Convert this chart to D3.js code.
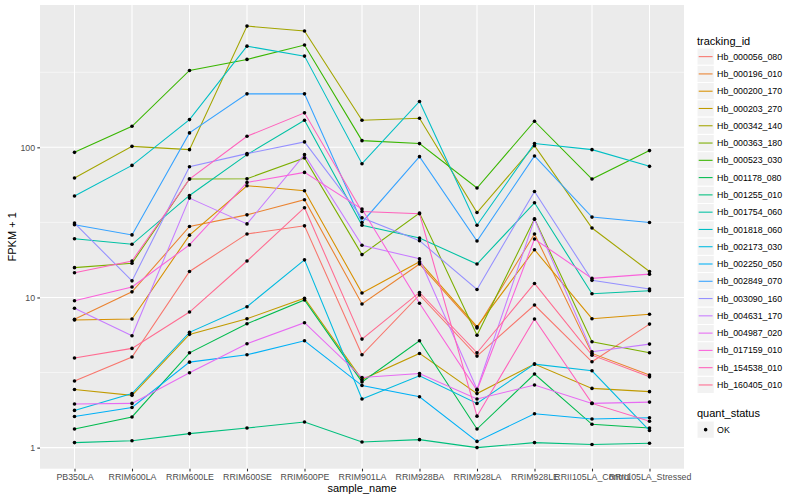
<!DOCTYPE html>
<html>
<head>
<meta charset="utf-8">
<script src="https://cdn.jsdelivr.net/npm/d3@7"></script>
<style>
  body { margin: 0; background: #fff; }
  svg text { font-family: "Liberation Sans", Arial, sans-serif; }
</style>
</head>
<body>
<svg id="chart" width="800" height="500"></svg>
<script>
// sample names on the x axis
var sampleNames = ["PB350LA", "RRIM600LA", "RRIM600LE", "RRIM600SE", "RRIM600PE", "RRIM901LA",
                   "RRIM928BA", "RRIM928LA", "RRIM928LE", "RRII105LA_Control", "RRII105LA_Stressed"];

// FPKM + 1 per tracking id, one value per sample
var Hb_000056_080 = [2.78, 4.01, 14.9, 26.5, 30.0, 4.15, 10.4, 4.07, 8.91, 3.73, 6.65];
var Hb_000196_010 = [7.15, 10.9, 29.7, 35.5, 44.8, 9.05, 16.7, 6.26, 26.5, 4.24, 3.04];
var Hb_000200_170 = [7.08, 7.19, 26.0, 55.5, 51.4, 10.7, 17.3, 6.39, 20.8, 7.22, 7.73];
var Hb_000203_270 = [2.44, 2.23, 5.68, 7.22, 9.88, 2.84, 4.24, 2.29, 3.60, 2.48, 2.36];
var Hb_000342_140 = [62.5, 101.5, 96.5, 642, 595, 151.5, 156.2, 36.8, 102.6, 29.0, 14.9];
var Hb_000363_180 = [15.8, 16.9, 61.5, 61.8, 85.0, 19.3, 36.5, 5.6, 33.4, 5.07, 4.28];
var Hb_000523_030 = [92.6, 138.1, 325, 385, 480, 110.8, 105.9, 53.6, 149.2, 61.5, 95.1];
var Hb_001178_080 = [1.33, 1.60, 4.28, 6.69, 9.62, 2.74, 5.15, 1.33, 3.09, 1.43, 1.35];
var Hb_001255_010 = [1.08, 1.11, 1.24, 1.35, 1.48, 1.09, 1.13, 1.0, 1.08, 1.05, 1.07];
var Hb_001754_060 = [24.6, 22.6, 47.8, 89.4, 151.5, 30.3, 24.9, 16.7, 42.7, 10.6, 11.1];
var Hb_001818_060 = [47.4, 75.8, 153, 472, 405, 77.8, 202, 30.3, 105.9, 96.5, 74.7];
var Hb_002173_030 = [1.77, 2.29, 5.86, 8.68, 17.8, 2.11, 3.01, 1.97, 3.60, 3.25, 1.30];
var Hb_002250_050 = [1.61, 1.85, 3.71, 4.15, 5.15, 2.59, 2.18, 1.10, 1.68, 1.55, 1.58];
var Hb_002849_070 = [30.5, 26.1, 124.8, 227, 227, 31.6, 86.7, 23.8, 87.6, 34.3, 31.6];
var Hb_003090_160 = [31.3, 12.9, 74.3, 90.8, 108.7, 33.9, 23.9, 11.3, 50.8, 13.0, 11.4];
var Hb_004631_170 = [8.47, 5.56, 45.9, 30.9, 89.4, 22.3, 18.1, 2.45, 33.2, 4.35, 4.89];
var Hb_004987_020 = [1.95, 1.97, 3.15, 4.92, 6.79, 2.93, 3.12, 2.11, 2.61, 1.97, 2.01];
var Hb_017159_010 = [9.52, 11.75, 22.4, 58.4, 68.1, 38.8, 9.15, 2.41, 24.5, 13.4, 14.3];
var Hb_154538_010 = [14.6, 17.5, 61.5, 118.4, 169.7, 37.4, 36.1, 1.62, 7.19, 1.97, 1.50];
var Hb_160405_010 = [3.95, 4.58, 8.0, 17.5, 39.6, 5.28, 10.8, 4.28, 12.4, 4.13, 2.96];

var trackingIds = ["Hb_000056_080", "Hb_000196_010", "Hb_000200_170", "Hb_000203_270", "Hb_000342_140",
                   "Hb_000363_180", "Hb_000523_030", "Hb_001178_080", "Hb_001255_010", "Hb_001754_060",
                   "Hb_001818_060", "Hb_002173_030", "Hb_002250_050", "Hb_002849_070", "Hb_003090_160",
                   "Hb_004631_170", "Hb_004987_020", "Hb_017159_010", "Hb_154538_010", "Hb_160405_010"];
var seriesValues = [Hb_000056_080, Hb_000196_010, Hb_000200_170, Hb_000203_270, Hb_000342_140,
                    Hb_000363_180, Hb_000523_030, Hb_001178_080, Hb_001255_010, Hb_001754_060,
                    Hb_001818_060, Hb_002173_030, Hb_002250_050, Hb_002849_070, Hb_003090_160,
                    Hb_004631_170, Hb_004987_020, Hb_017159_010, Hb_154538_010, Hb_160405_010];
var quantStatus = ["OK"];
var yTicks = [1, 10, 100];

// ggplot hue palette, 20 levels
var palette = ["#F8766D", "#EA8331", "#D89000", "#C09B00", "#A3A500", "#7CAE00", "#39B600", "#00BB4E",
               "#00BF7D", "#00C1A3", "#00BFC4", "#00BAE0", "#00B0F6", "#35A2FF", "#9590FF", "#C77CFF",
               "#E76BF3", "#FA62DB", "#FF62BC", "#FF6C91"];

var series = trackingIds.map(function(id, i) {
    return {id: id, values: seriesValues[i].map(function(v, j) { return {sample: sampleNames[j], value: v}; })};
});

var svg = d3.select("#chart");
var panel = {left: 40, right: 684, top: 5, bottom: 468.7};

var x = d3.scalePoint().domain(sampleNames).range([panel.left, panel.right]).padding(0.6);

var allVals = d3.merge(seriesValues);
var lo = Math.log10(d3.min(allVals)), hi = Math.log10(d3.max(allVals));
var ext = (hi - lo) * 0.05;
var y = d3.scaleLog().domain([Math.pow(10, lo - ext), Math.pow(10, hi + ext)]).range([panel.bottom, panel.top]);
var color = d3.scaleOrdinal().domain(trackingIds).range(palette);

// panel background + grid
svg.append("rect").attr("x", panel.left).attr("y", panel.top)
   .attr("width", panel.right - panel.left).attr("height", panel.bottom - panel.top).attr("fill", "#EBEBEB");

var minor = [0.5, 1.5, 2.5].map(function(e) { return Math.pow(10, e); });
svg.append("g").selectAll("line").data(minor).enter().append("line")
   .attr("x1", panel.left).attr("x2", panel.right)
   .attr("y1", function(d) { return y(d); }).attr("y2", function(d) { return y(d); })
   .attr("stroke", "#fff").attr("stroke-width", 0.53);
svg.append("g").selectAll("line").data(yTicks).enter().append("line")
   .attr("x1", panel.left).attr("x2", panel.right)
   .attr("y1", function(d) { return y(d); }).attr("y2", function(d) { return y(d); })
   .attr("stroke", "#fff").attr("stroke-width", 1.07);
svg.append("g").selectAll("line").data(sampleNames).enter().append("line")
   .attr("x1", function(d) { return x(d); }).attr("x2", function(d) { return x(d); })
   .attr("y1", panel.top).attr("y2", panel.bottom)
   .attr("stroke", "#fff").attr("stroke-width", 1.07);

// lines
var line = d3.line().x(function(d) { return x(d.sample); }).y(function(d) { return y(d.value); });
svg.append("g").selectAll("path").data(series).enter().append("path")
   .attr("d", function(d) { return line(d.values); })
   .attr("fill", "none").attr("stroke", function(d) { return color(d.id); }).attr("stroke-width", 1.07);

// points
svg.append("g").selectAll("circle").data(d3.merge(series.map(function(s) { return s.values; })))
   .enter().append("circle")
   .attr("cx", function(d) { return x(d.sample); }).attr("cy", function(d) { return y(d.value); })
   .attr("r", 1.8).attr("fill", "#000");

// axes
var yAxis = svg.append("g").attr("transform", "translate(" + panel.left + ",0)")
   .call(d3.axisLeft(y).tickValues(yTicks).tickFormat(d3.format("d")).tickSize(2.7).tickPadding(2.2));
var xAxis = svg.append("g").attr("transform", "translate(0," + panel.bottom + ")")
   .call(d3.axisBottom(x).tickSize(2.7).tickPadding(2.2));
[yAxis, xAxis].forEach(function(a) {
    a.select(".domain").remove();
    a.selectAll(".tick line").attr("stroke", "#333333").attr("stroke-width", 1.07);
    a.selectAll(".tick text").attr("fill", "#4D4D4D").style("font-size", "8.8px")
     .style("font-family", "'Liberation Sans', Arial, sans-serif");
});

// axis titles
svg.append("text").attr("x", (panel.left + panel.right) / 2).attr("y", 492)
   .attr("text-anchor", "middle").style("font-size", "11px").text("sample_name");
svg.append("text").attr("transform", "translate(16," + ((panel.top + panel.bottom) / 2) + ") rotate(-90)")
   .attr("text-anchor", "middle").style("font-size", "11px").text("FPKM + 1");

// legend: tracking_id
var legX = 697, keyW = 17.28, keyH = 17.28;
svg.append("text").attr("x", legX).attr("y", 44.5).style("font-size", "11px").text("tracking_id");
var keys = svg.append("g").selectAll("g").data(trackingIds).enter().append("g")
   .attr("transform", function(d, i) { return "translate(" + legX + "," + (48 + i * keyH) + ")"; });
keys.append("rect").attr("width", keyW).attr("height", keyH).attr("fill", "#F2F2F2")
   .attr("stroke", "#fff").attr("stroke-width", 1);
keys.append("line").attr("x1", 1.7).attr("x2", keyW - 1.7).attr("y1", keyH / 2).attr("y2", keyH / 2)
   .attr("stroke", function(d) { return color(d); }).attr("stroke-width", 1.07);
keys.append("text").attr("x", keyW + 2.8).attr("y", keyH / 2 + 3.1).style("font-size", "8.8px").text(function(d) { return d; });

// legend: quant_status
svg.append("text").attr("x", legX).attr("y", 416.5).style("font-size", "11px").text("quant_status");
var qk = svg.append("g").selectAll("g").data(quantStatus).enter().append("g")
   .attr("transform", function(d, i) { return "translate(" + legX + "," + (421 + i * keyH) + ")"; });
qk.append("rect").attr("width", keyW).attr("height", keyH).attr("fill", "#F2F2F2")
   .attr("stroke", "#fff").attr("stroke-width", 1);
qk.append("circle").attr("cx", keyW / 2).attr("cy", keyH / 2).attr("r", 1.8).attr("fill", "#000");
qk.append("text").attr("x", keyW + 2.8).attr("y", keyH / 2 + 3.1).style("font-size", "8.8px").text(function(d) { return d; });
</script>
</body>
</html>
